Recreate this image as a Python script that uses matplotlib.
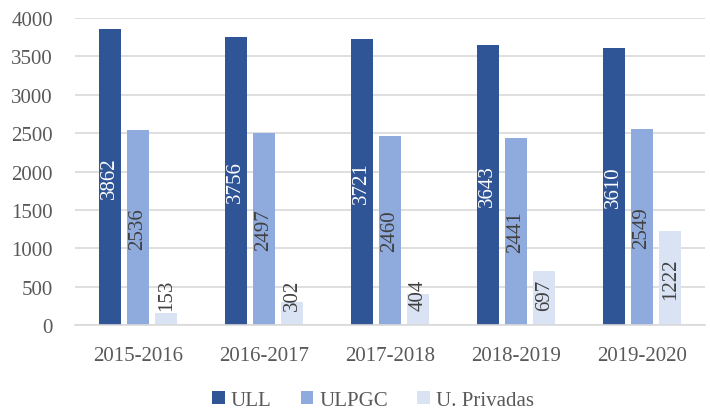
import numpy as np
import matplotlib.pyplot as plt

years = ['2015-2016', '2016-2017', '2017-2018', '2018-2019', '2019-2020']
ull = [3862, 3756, 3721, 3643, 3610]
ulpgc = [2536, 2497, 2460, 2441, 2549]
privadas = [153, 302, 404, 697, 1222]

series = [('ULL', ull, '#2F5597', 'white'),
          ('ULPGC', ulpgc, '#8FAADC', '#404040'),
          ('U. Privadas', privadas, '#DAE3F3', '#404040')]

plt.rcParams['font.family'] = ['Liberation Serif', 'DejaVu Serif']
gray = '#595959'

fig = plt.figure(figsize=(7.1, 4.14), dpi=100)
ax = fig.add_axes([0.1056, 0.2126, 0.8874, 0.7414])

x = np.arange(len(years))
width = 0.175
step = 0.225
for i, (name, vals, color, tcol) in enumerate(series):
    pos = x + (i - 1) * step
    ax.bar(pos, vals, width, color=color, label=name, zorder=2)
    for p, v in zip(pos, vals):
        ax.text(p, max(v / 2, 400), str(v), rotation=90, ha='center', va='center',
                color=tcol, fontsize=15, zorder=3)

ax.set_ylim(0, 4000)
ax.set_xlim(-0.5, len(years) - 0.5)
ax.set_yticks(range(0, 4001, 500))
ax.set_xticks(x)
ax.set_xticklabels(years)
ax.yaxis.grid(True, color='#d9d9d9', linewidth=1.2, zorder=0)
ax.set_axisbelow(True)
for s in ['top', 'right', 'left']:
    ax.spines[s].set_visible(False)
ax.spines['bottom'].set_color('#d9d9d9')
ax.spines['bottom'].set_linewidth(1.2)
ax.tick_params(length=0, labelsize=15, colors=gray)
ax.tick_params(axis='x', pad=15)
ax.tick_params(axis='y', pad=16)

ax.legend(loc='center', bbox_to_anchor=(0.473, -0.245), ncol=3, frameon=False,
          fontsize=15, labelcolor=gray, handlelength=0.6, handleheight=0.6,
          handletextpad=0.3, columnspacing=1.4, borderaxespad=0, borderpad=0.2)

fig.savefig('out.png', dpi=100)
